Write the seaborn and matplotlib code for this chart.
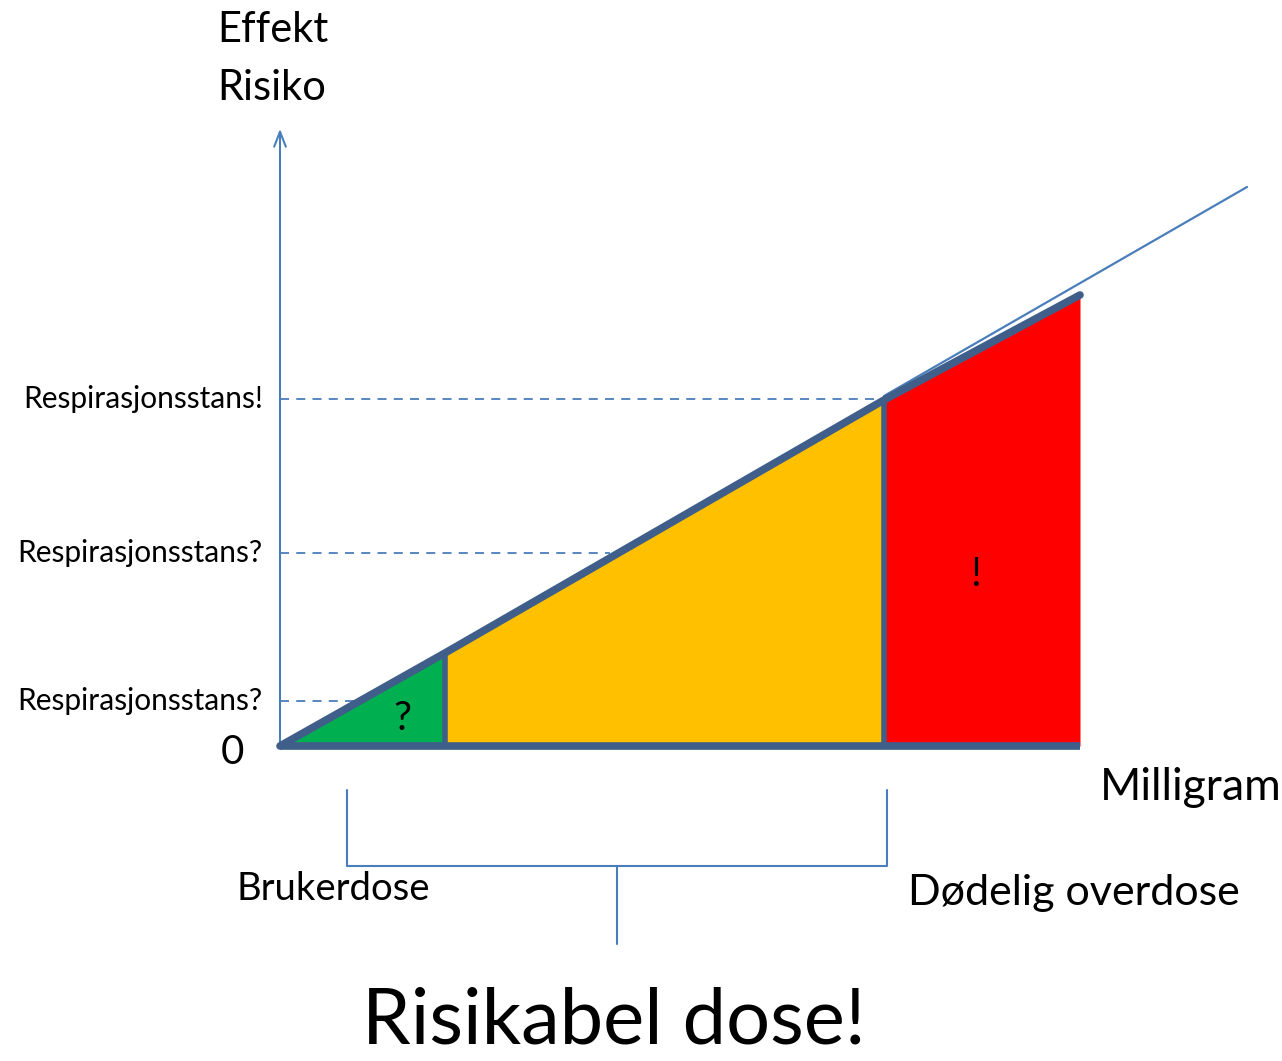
import matplotlib
matplotlib.use("Agg")
import matplotlib.pyplot as plt
import seaborn as sns
import pandas as pd

# dose zones (x) and the effect/risk at their edges (y)
zone_edges = [0.0, 1.65, 6.04, 8.0]
zone_risk = [0.0, 0.93, 3.46, 4.51]
zone_colors = ["#00b050", "#ffc000", "#ff0000"]

# marks inside the zones
mark_text = ["?", "!"]
mark_dose = [1.22, 6.96]
mark_risk = [0.28, 1.71]

# thin trend line continuing past the lethal dose
trend_dose = [6.04, 9.67]
trend_risk = [3.50, 5.59]

# respiratory arrest levels
resp_labels = ["Respirasjonsstans?", "Respirasjonsstans?", "Respirasjonsstans!"]
resp_level = [0.45, 1.93, 3.47]
resp_reach = [0.75, 3.30, 6.04]

sns.set_theme(style="white")
plt.rcParams["font.family"] = ["Lato", "DejaVu Sans"]
plt.rcParams["text.color"] = "black"

fig = plt.figure(figsize=(12.82, 10.61), dpi=100)
ax = fig.add_axes([0, 0, 1, 1])
ax.set_xlim(-2.80, 10.02)
ax.set_ylim(-3.15, 7.46)
ax.axis("off")

edge = "#3f5f8a"
thin = "#4a7ebb"

# coloured zones under the curve
for i, c in enumerate(zone_colors):
    xs = [zone_edges[i], zone_edges[i + 1]]
    ys = [zone_risk[i], zone_risk[i + 1]]
    ax.fill_between(xs, 0, ys, color=c, lw=0, zorder=2)

for t, x, y in zip(mark_text, mark_dose, mark_risk):
    ax.text(x, y, t, fontsize=29, ha="center", va="center", zorder=5)

# thick outline: top edge, base, dividers
top = pd.DataFrame({"dose": zone_edges, "risk": zone_risk})
sns.lineplot(data=top, x="dose", y="risk", color=edge, lw=5.5, ax=ax,
             zorder=4, solid_capstyle="round")
ax.plot([zone_edges[0], zone_edges[-1]], [0, 0], color=edge, lw=5.5, zorder=4,
        solid_capstyle="butt")
for x, y in zip(zone_edges[1:3], zone_risk[1:3]):
    ax.plot([x, x], [0, y], color=edge, lw=4, zorder=4)

# thin continuation
sns.lineplot(x=trend_dose, y=trend_risk, color=thin, lw=1.6, ax=ax, zorder=3)

# y-axis with open arrow head
ax.annotate("", xy=(0, 6.20), xytext=(0, 0),
            arrowprops=dict(arrowstyle="->,head_length=0.9,head_width=0.35",
                            color=thin, lw=1.5), zorder=1)

# dashed levels and labels
for lab, y, x_end in zip(resp_labels, resp_level, resp_reach):
    ax.plot([0, x_end], [y, y], color=thin, lw=1.3, ls=(0, (5, 4)), zorder=1)
    ax.text(-0.17, y, lab, ha="right", va="center", fontsize=21.5)

# axis texts
ax.text(-0.63, 7.16, "Effekt", fontsize=30, ha="left", va="center")
ax.text(-0.63, 6.58, "Risiko", fontsize=30, ha="left", va="center")
ax.text(-0.48, -0.06, "0", fontsize=29, ha="center", va="center")
ax.text(8.20, -0.42, "Milligram", fontsize=32, ha="left", va="center")

# bracket for the risky dose range
bx = [0.67, 0.67, 6.07, 6.07]
by = [-0.44, -1.20, -1.20, -0.44]
ax.plot(bx, by, color=thin, lw=1.5)
ax.plot([3.37, 3.37], [-1.20, -1.98], color=thin, lw=1.5)

ax.text(-0.43, -1.43, "Brukerdose", fontsize=27.5, ha="left", va="center")
ax.text(6.28, -1.47, "Dødelig overdose", fontsize=31, ha="left", va="center")
ax.text(3.34, -2.98, "Risikabel dose!", fontsize=56, ha="center",
        va="baseline")

fig.savefig("out.png", dpi=100)
